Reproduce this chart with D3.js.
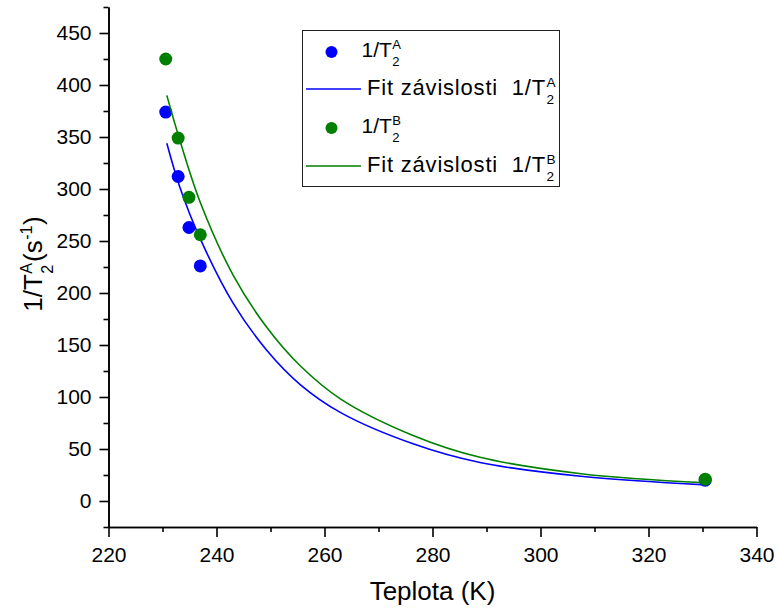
<!DOCTYPE html>
<html>
<head>
<meta charset="utf-8">
<script src="https://cdn.jsdelivr.net/npm/d3@7"></script>
<style>
	body { margin: 0; background: #fff; }
	svg { display: block; font-family: 'Liberation Sans', Arial, sans-serif; }
	.axis path, .axis line { stroke: #000; stroke-width: 1.6; }
	.axis text { font-size: 21px; fill: #000; }
</style>
</head>
<body>
<script>
// measured points
var tempA = [230.6, 232.9, 234.9, 237.0, 330.5];
var rateA = [374, 312, 263, 226, 20];
var tempB = [230.6, 232.9, 234.9, 237.0, 330.5];
var rateB = [425, 349, 292, 256, 21];

// fit curves
var fitTempA = [230.8, 233.2, 237.0, 243.1, 249.3, 255.5, 263.0, 276.4, 288.8, 307.9, 330.5];
var fitRateA = [344, 302, 252, 190, 145, 112, 85, 55, 37, 23.5, 15.5];
var fitTempB = [230.8, 233.2, 237.0, 243.1, 249.3, 255.5, 263.0, 276.4, 288.8, 307.9, 330.5];
var fitRateB = [390, 347, 287, 217, 167, 130, 98, 63, 42, 26, 17.5];

var xTicks = [220, 240, 260, 280, 300, 320, 340];
var xMinor = [230, 250, 270, 290, 310, 330];
var yTicks = [0, 50, 100, 150, 200, 250, 300, 350, 400, 450];
var yMinor = [-25, 25, 75, 125, 175, 225, 275, 325, 375, 425, 475];

var blue = '#0000ff';
var green = '#008000';

var svg = d3.select('body').append('svg')
	.attr('width', 776)
	.attr('height', 613);

var x = d3.scaleLinear().domain([220, 340]).range([108.5, 756.5]);
var y = d3.scaleLinear().domain([-25, 475]).range([527, 7]);

// minor ticks first
svg.append('g')
	.attr('class', 'axis')
	.attr('transform', 'translate(0,527)')
	.call(d3.axisBottom(x).tickValues(xMinor).tickSize(5).tickSizeOuter(0).tickFormat(''));
svg.append('g')
	.attr('class', 'axis')
	.attr('transform', 'translate(108.5,0)')
	.call(d3.axisLeft(y).tickValues(yMinor).tickSize(5).tickSizeOuter(0).tickFormat(''));

svg.append('g')
	.attr('class', 'axis')
	.attr('transform', 'translate(0,527)')
	.call(d3.axisBottom(x).tickValues(xTicks).tickSize(10).tickPadding(10.5).tickSizeOuter(0));
svg.append('g')
	.attr('class', 'axis')
	.attr('transform', 'translate(108.5,0)')
	.call(d3.axisLeft(y).tickValues(yTicks).tickSize(9).tickPadding(8).tickSizeOuter(0));

// writes 1/T with stacked sup/sub, returns end x
function addT(g, x0, y0, size, sup, tail, tailSup, spacing) {
	var ls = (spacing || 0) + 'px';
	var t = g.append('text').attr('x', x0).attr('y', y0)
		.style('font-size', size + 'px').style('letter-spacing', ls).text('1/T');
	var w = t.node().getComputedTextLength();
	var s = size * 0.62;
	var a = g.append('text').attr('x', x0 + w + 0.5).attr('y', y0 - size * 0.38)
		.style('font-size', s + 'px').text(sup);
	var b = g.append('text').attr('x', x0 + w + 0.5).attr('y', y0 + size * 0.42)
		.style('font-size', s + 'px').text('2');
	var end = x0 + w + 0.5 + Math.max(a.node().getComputedTextLength(), b.node().getComputedTextLength());
	if (tail) {
		var c = g.append('text').attr('x', end + 1).attr('y', y0)
			.style('font-size', size + 'px').text(tail);
		end = end + 1 + c.node().getComputedTextLength();
		if (tailSup) {
			var d = g.append('text').attr('x', end + 0.5).attr('y', y0 - size * 0.38)
				.style('font-size', s + 'px').text(tailSup);
			end = end + 0.5 + d.node().getComputedTextLength();
			var e = g.append('text').attr('x', end + 0.5).attr('y', y0)
				.style('font-size', size + 'px').text(')');
			end = end + 0.5 + e.node().getComputedTextLength();
		}
	}
	return end;
}

var line = d3.line()
	.x(function(d) { return x(d[0]); })
	.y(function(d) { return y(d[1]); })
	.curve(d3.curveCatmullRom.alpha(0.5));

function drawSeries(temps, rates, fitT, fitR, color) {
	svg.append('g').selectAll('circle')
		.data(d3.zip(temps, rates))
		.enter()
		.append('circle')
			.attr('cx', function(d) { return x(d[0]); })
			.attr('cy', function(d) { return y(d[1]); })
			.attr('r', 6.5)
			.attr('fill', color);
	svg.append('path')
		.datum(d3.zip(fitT, fitR))
		.attr('d', line)
		.attr('fill', 'none')
		.attr('stroke', color)
		.attr('stroke-width', 1.6);
}

drawSeries(tempA, rateA, fitTempA, fitRateA, blue);
drawSeries(tempB, rateB, fitTempB, fitRateB, green);

// axis titles
svg.append('text')
	.attr('x', 432.5)
	.attr('y', 600)
	.attr('text-anchor', 'middle')
	.style('font-size', '26px')
	.text('Teplota (K)');

var yt = svg.append('g');
var yEnd = addT(yt, 0, 0, 26, 'A', '(s', '-1');
yt.attr('transform', 'translate(42,' + (264 + yEnd / 2) + ') rotate(-90)');

// legend
var leg = svg.append('g');
leg.append('rect')
	.attr('x', 302.5).attr('y', 30.5)
	.attr('width', 257).attr('height', 156)
	.attr('fill', '#fff')
	.attr('stroke', '#222')
	.attr('stroke-width', 1);

var rows = [52, 89, 128, 166];
function fitLabel(yy, sup) {
	var f = leg.append('text').attr('x', 367).attr('y', yy).style('font-size', '22px')
		.style('letter-spacing', '0.8px')
		.style('white-space', 'pre').text('Fit závislosti  ');
	addT(leg, 367 + f.node().getComputedTextLength(), yy, 22, sup, null, null, 0.8);
}
leg.append('circle').attr('cx', 331.5).attr('cy', rows[0]).attr('r', 6).attr('fill', blue);
addT(leg, 361.5, rows[0] + 5, 21, 'A');
leg.append('line').attr('x1', 306).attr('x2', 361).attr('y1', rows[1]).attr('y2', rows[1])
	.attr('stroke', blue).attr('stroke-width', 1.6);
fitLabel(rows[1] + 6, 'A');
leg.append('circle').attr('cx', 331.5).attr('cy', rows[2]).attr('r', 6).attr('fill', green);
addT(leg, 361.5, rows[2] + 5, 21, 'B');
leg.append('line').attr('x1', 306).attr('x2', 361).attr('y1', rows[3]).attr('y2', rows[3])
	.attr('stroke', green).attr('stroke-width', 1.6);
fitLabel(rows[3] + 6, 'B');
</script>
</body>
</html>
